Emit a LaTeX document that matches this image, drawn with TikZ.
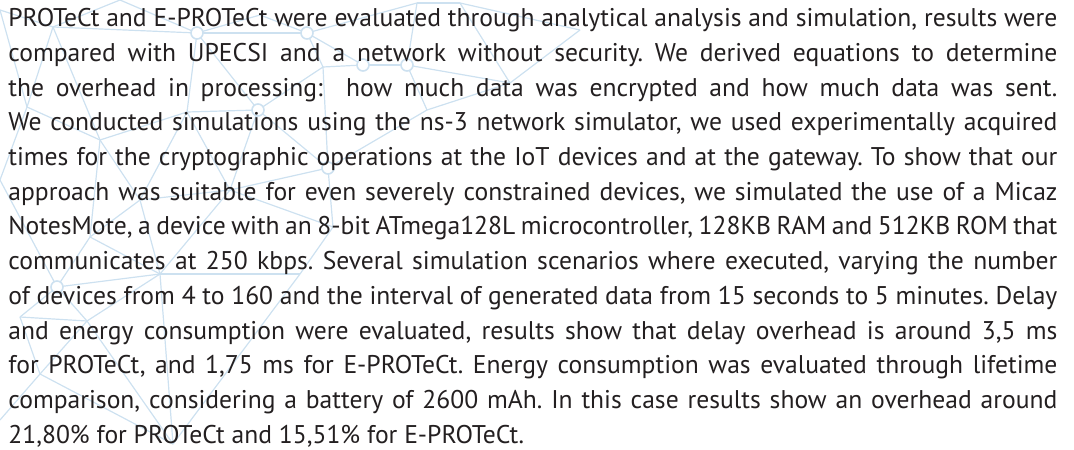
\documentclass[tikz,border=0pt]{standalone}
\usepackage{fontspec}
\setmainfont{PT Sans}
\definecolor{netblue}{RGB}{205,225,240}
\definecolor{inkgray}{RGB}{35,31,32}

\begin{document}
\frenchspacing
\begin{tikzpicture}[x=0.5pt,y=-0.5pt,
      every node/.style={inner sep=0pt},
      textline/.style={anchor=base west,text=inkgray,font=\fontsize{12.8}{16}\selectfont},
      link/.style={draw=netblue,line width=0.6pt},
      hub/.style={circle,draw=netblue,fill=white,line width=0.8pt,minimum size=6pt}]
    \useasboundingbox (0,0) rectangle (1074,449);

    % background mesh
    \coordinate (a1) at (0,10);
    \coordinate (a2) at (53,27);
    \coordinate (a3) at (120,0);
    \coordinate (a4) at (197,33);
    \coordinate (a5) at (307,33);
    \coordinate (a6) at (417,3);
    \coordinate (a7) at (460,3);
    \coordinate (a8) at (363,65);
    \coordinate (a9) at (407,65);
    \coordinate (a10) at (510,83);
    \coordinate (a11) at (27,107);
    \coordinate (a12) at (100,140);
    \coordinate (a13) at (187,112);
    \coordinate (a14) at (258,110);
    \coordinate (a15) at (323,67);
    \coordinate (a16) at (427,110);
    \coordinate (a17) at (328,168);
    \coordinate (a18) at (140,200);
    \coordinate (a19) at (230,190);
    \coordinate (a20) at (0,180);
    \coordinate (a21) at (90,237);
    \coordinate (a22) at (57,287);
    \coordinate (a23) at (160,274);
    \coordinate (a24) at (20,317);
    \coordinate (a25) at (87,321);
    \coordinate (a26) at (40,374);
    \coordinate (a27) at (173,444);
    \coordinate (a28) at (300,274);
    \coordinate (a29) at (333,227);
    \coordinate (a30) at (0,420);
    \coordinate (a31) at (580,30);
    \coordinate (a32) at (260,15);

    \foreach \p/\q in {a1/a2,a2/a3,a2/a4,a3/a4,a4/a32,a32/a5,a4/a5,a5/a6,a5/a15,
        a6/a7,a7/a10,a8/a9,a9/a10,a15/a8,a5/a8,a9/a6,a10/a31,a7/a31,a2/a11,
        a11/a12,a2/a12,a12/a13,a4/a13,a13/a14,a4/a14,a14/a15,a14/a17,a15/a17,
        a16/a17,a9/a16,a16/a10,a12/a18,a13/a18,a13/a19,a19/a14,a19/a17,a18/a19,
        a11/a20,a18/a21,a12/a21,a21/a22,a22/a23,a21/a23,a18/a23,a23/a19,a22/a24,
        a24/a25,a22/a25,a25/a23,a24/a26,a26/a25,a26/a30,a25/a27,a23/a27,a26/a27,
        a23/a28,a28/a29,a29/a17,a19/a29,a27/a28,a20/a22,a1/a11}
      \draw[link] (\p) -- (\q);

    \foreach \c in {a4,a5,a8,a9,a14,a17,a22}
      \node[hub] (h-\c) at (\c) {};

    % paragraph, one justified line per node
    \node[textline] (l1) at (8,26.7) {\makebox[524.5pt][s]{PROTeCt and E-PROTeCt were evaluated through analytical analysis and simulation, results were}};
    \node[textline] (l2) at (8,61.4) {\makebox[524.5pt][s]{compared with UPECSI and a network without security. We derived equations to determine}};
    \node[textline] (l3) at (8,96.1) {\makebox[524.5pt][s]{the overhead in processing: \ how much data was encrypted and how much data was sent.}};
    \node[textline] (l4) at (8,130.8) {\makebox[524.5pt][s]{We conducted simulations using the ns-3 network simulator, we used experimentally acquired}};
    \node[textline] (l5) at (8,165.5) {\makebox[524.5pt][s]{times for the cryptographic operations at the IoT devices and at the gateway. To show that our}};
    \node[textline] (l6) at (8,200.2) {\makebox[524.5pt][s]{approach was suitable for even severely constrained devices, we simulated the use of a Micaz}};
    \node[textline] (l7) at (8,234.9) {\makebox[524.5pt][s]{NotesMote, a device with an 8-bit ATmega128L microcontroller, 128KB RAM and 512KB ROM that}};
    \node[textline] (l8) at (8,269.6) {\makebox[524.5pt][s]{communicates at 250 kbps. Several simulation scenarios where executed, varying the number}};
    \node[textline] (l9) at (8,304.3) {\makebox[524.5pt][s]{of devices from 4 to 160 and the interval of generated data from 15 seconds to 5 minutes. Delay}};
    \node[textline] (l10) at (8,339.0) {\makebox[524.5pt][s]{and energy consumption were evaluated, results show that delay overhead is around 3,5 ms}};
    \node[textline] (l11) at (8,373.7) {\makebox[524.5pt][s]{for PROTeCt, and 1,75 ms for E-PROTeCt. Energy consumption was evaluated through lifetime}};
    \node[textline] (l12) at (8,408.4) {\makebox[524.5pt][s]{comparison, considering a battery of 2600 mAh. In this case results show an overhead around}};
    \node[textline] (l13) at (8,443.1) {21,80\% for PROTeCt and 15,51\% for E-PROTeCt.};

\end{tikzpicture}
\end{document}
